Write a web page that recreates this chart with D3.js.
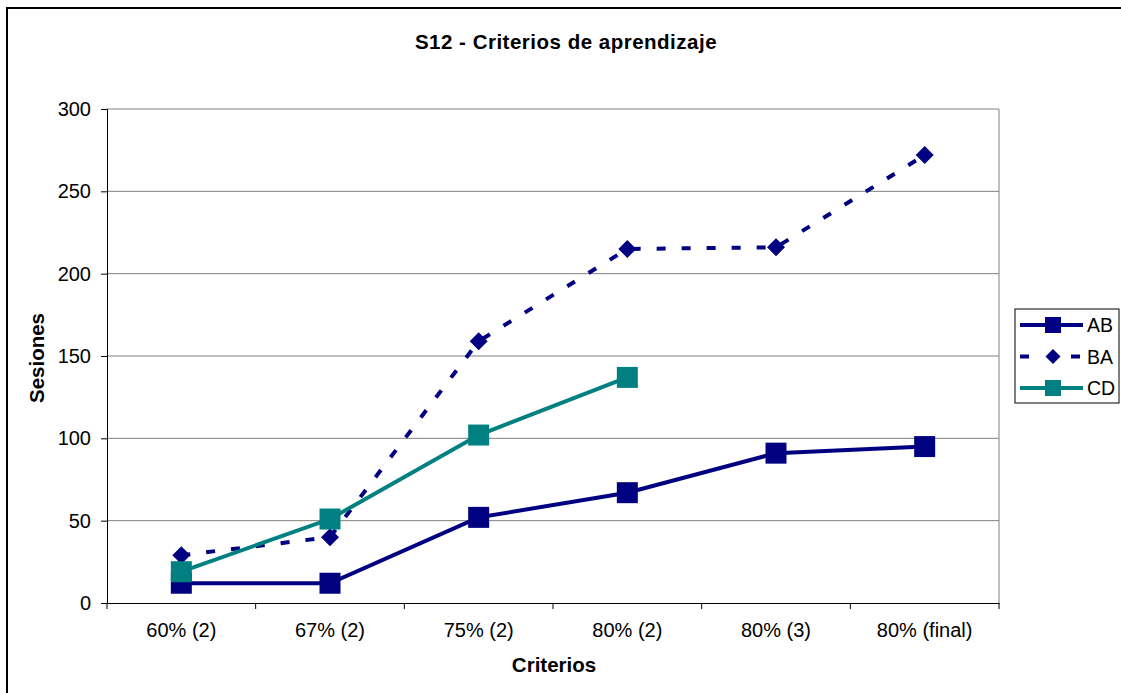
<!DOCTYPE html>
<html>
<head>
<meta charset="utf-8">
<script src="https://cdn.jsdelivr.net/npm/d3@7"></script>
<style>
  body { margin: 0; background: #fff; }
  text { font-family: "Liberation Sans", Arial, sans-serif; }
</style>
</head>
<body>
<div id="container"></div>
<script>
/* data */
const categories = ["60% (2)", "67% (2)", "75% (2)", "80% (2)", "80% (3)", "80% (final)"];
const abValues = [12, 12, 52, 67, 91, 95];
const baValues = [29, 40, 159, 215, 216, 272];
const cdValues = [19, 51, 102, 137];
const yTicks = [0, 50, 100, 150, 200, 250, 300];

const width = 1121, height = 693,
    plot = {left: 107, right: 999, top: 109, bottom: 603};

const svg = d3.select("#container").append("svg")
    .attr("width", width)
    .attr("height", height);

// outer chart frame
svg.append("rect")
    .attr("x", 7).attr("y", 8)
    .attr("width", 1130).attr("height", 700)
    .attr("fill", "white").attr("stroke", "black").attr("stroke-width", 2);

/* scales */
const xScale = d3.scaleBand()
    .domain(categories)
    .range([plot.left, plot.right]);

const yScale = d3.scaleLinear()
    .domain([0, 300])
    .range([plot.bottom, plot.top]);

// gridlines
svg.append("g")
    .selectAll("line")
    .data(yTicks.filter(d => d > 0))
    .join("line")
    .attr("x1", plot.left).attr("x2", plot.right)
    .attr("y1", d => yScale(d)).attr("y2", d => yScale(d))
    .attr("stroke", "#808080").attr("stroke-width", 1);

// right border of the plot area
svg.append("line")
    .attr("x1", plot.right).attr("x2", plot.right)
    .attr("y1", plot.top).attr("y2", plot.bottom)
    .attr("stroke", "#808080");

/* axes */
const yAxis = d3.axisLeft(yScale).tickValues(yTicks).tickSize(6).tickPadding(10);
const gy = svg.append("g")
    .attr("transform", `translate(${plot.left},0)`)
    .call(yAxis);
gy.select(".domain").attr("stroke", "black");
gy.selectAll(".tick line").attr("stroke", "black");
gy.selectAll("text").attr("font-size", 20).attr("fill", "black")
    .attr("font-family", "Liberation Sans, Arial, sans-serif");

const gx = svg.append("g")
    .attr("transform", `translate(0,${plot.bottom})`)
    .call(d3.axisBottom(xScale).tickSize(0).tickPadding(20));
gx.select(".domain").attr("stroke", "black");
gx.selectAll("text").attr("font-size", 20).attr("fill", "black")
    .attr("font-family", "Liberation Sans, Arial, sans-serif");

// x ticks sit on category boundaries
gx.append("g")
    .selectAll("line")
    .data(categories)
    .join("line")
    .attr("x1", d => xScale(d)).attr("x2", d => xScale(d))
    .attr("y1", 0).attr("y2", 6)
    .attr("stroke", "black");
gx.append("line")
    .attr("x1", plot.right).attr("x2", plot.right)
    .attr("y1", 0).attr("y2", 6)
    .attr("stroke", "black");

/* titles */
svg.append("text")
    .attr("x", 566).attr("y", 49)
    .attr("text-anchor", "middle")
    .attr("font-size", 20.5).attr("font-weight", "bold")
    .attr("letter-spacing", 0.5)
    .text("S12 - Criterios de aprendizaje");

svg.append("text")
    .attr("x", 554).attr("y", 672)
    .attr("text-anchor", "middle")
    .attr("font-size", 20.5).attr("font-weight", "bold")
    .text("Criterios");

svg.append("text")
    .attr("transform", "translate(44,358) rotate(-90)")
    .attr("text-anchor", "middle")
    .attr("font-size", 20.5).attr("font-weight", "bold")
    .text("Sesiones");

/* series */
const series = [
    {name: "AB", values: abValues, color: "#000080", dash: null, diamond: false, size: 21},
    {name: "BA", values: baValues, color: "#000080", dash: "9,16", diamond: true, size: 18},
    {name: "CD", values: cdValues, color: "#008080", dash: null, diamond: false, size: 21}
];

const cx = (d, i) => xScale(categories[i]) + xScale.bandwidth() / 2;

const line = d3.line()
    .x((d, i) => cx(d, i))
    .y(d => yScale(d));

// square, or a square turned 45 degrees whose corners span w
const markerPath = (s, w) => {
    const side = s.diamond ? w / Math.SQRT2 : w;
    return d3.symbol().type(d3.symbolSquare).size(side * side)();
};
const markerTransform = (s, x, y) => `translate(${x},${y})` + (s.diamond ? " rotate(45)" : "");

series.forEach(s => {
    const g = svg.append("g");
    g.append("path")
        .datum(s.values)
        .attr("d", line)
        .attr("fill", "none")
        .attr("stroke", s.color)
        .attr("stroke-width", 4)
        .attr("stroke-dasharray", s.dash);
    g.selectAll(".mark")
        .data(s.values)
        .join("path")
        .attr("class", "mark")
        .attr("transform", (d, i) => markerTransform(s, cx(d, i), yScale(d)))
        .attr("d", markerPath(s, s.size))
        .attr("fill", s.color);
});

/* legend */
const legend = svg.append("g");
legend.append("rect")
    .attr("x", 1015).attr("y", 309)
    .attr("width", 104).attr("height", 94)
    .attr("fill", "white").attr("stroke", "black").attr("stroke-width", 1);

const legendY = d3.scalePoint().domain(series.map(s => s.name)).range([325, 388]);

series.forEach(s => {
    const y = legendY(s.name);
    legend.append("line")
        .attr("x1", 1020).attr("x2", 1083)
        .attr("y1", y).attr("y2", y)
        .attr("stroke", s.color).attr("stroke-width", 4)
        .attr("stroke-dasharray", s.dash ? "9,42" : null);
    legend.append("path")
        .attr("transform", markerTransform(s, 1053, y))
        .attr("d", markerPath(s, s.diamond ? 15 : 16))
        .attr("fill", s.color);
    legend.append("text")
        .attr("x", 1087).attr("y", y + 7)
        .attr("font-size", 19.5)
        .text(s.name);
});
</script>
</body>
</html>
